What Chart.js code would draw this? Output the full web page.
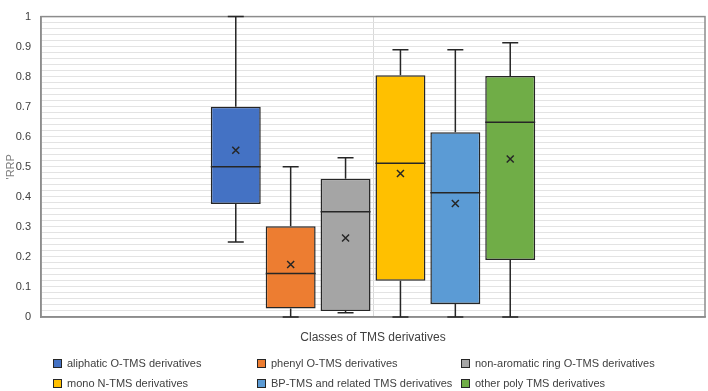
<!DOCTYPE html>
<html>
<head>
<meta charset="utf-8">
<script src="https://cdn.jsdelivr.net/npm/chart.js@4.4.1/dist/chart.umd.min.js"></script>
<style>
  body { margin: 0; background: #fff; }
  #wrap { position: relative; width: 708px; height: 391px; font-family: "Liberation Sans", Arial, sans-serif; }
  #legend .item { position: absolute; font-size: 11px; color: #404040; white-space: nowrap; line-height: 13px; }
  #legend .box { display: inline-block; width: 7px; height: 7px; border: 1px solid #262626; margin-right: 5px; vertical-align: -1px; }
</style>
</head>
<body>
<div id="wrap">
  <canvas id="boxChart" width="708" height="391"></canvas>
  <div id="legend"></div>
</div>
<script>
// Classes and box plot values
const categories = [
  "aliphatic O-TMS derivatives",
  "phenyl O-TMS derivatives",
  "non-aromatic ring O-TMS derivatives",
  "mono N-TMS derivatives",
  "BP-TMS and related TMS derivatives",
  "other poly TMS derivatives",
];
const colors = ["#4472C4", "#ED7D31", "#A5A5A5", "#FFC000", "#5B9BD5", "#70AD47"];

const mins    = [0.25, 0.0, 0.014, 0.0, 0.0, 0.0];
const q1s     = [0.376, 0.028, 0.02, 0.121, 0.043, 0.19];
const medians = [0.5, 0.145, 0.35, 0.512, 0.414, 0.648];
const q3s     = [0.70, 0.302, 0.46, 0.805, 0.615, 0.802];
const maxs    = [1.0, 0.5, 0.53, 0.89, 0.89, 0.913];
const means   = [0.555, 0.175, 0.263, 0.478, 0.378, 0.526];

const yTickLabels = ["0", "0.1", "0.2", "0.3", "0.4", "0.5", "0.6", "0.7", "0.8", "0.9", "1"];

const FONT = "'Liberation Sans', Arial, sans-serif";

// whiskers, medians and means drawn on top of the floating bars
const boxExtras = {
  id: "boxExtras",
  afterDatasetsDraw(chart) {
    const ctx = chart.ctx;
    const y = chart.scales.y;
    ctx.save();
    chart.data.datasets.forEach((ds, i) => {
      const bar = chart.getDatasetMeta(i).data[0];
      const x = bar.x;
      const half = bar.width / 2;
      ctx.strokeStyle = "#262626";
      ctx.lineWidth = 1.5;
      ctx.beginPath();
      // upper whisker
      ctx.moveTo(x, y.getPixelForValue(q3s[i]));
      ctx.lineTo(x, y.getPixelForValue(maxs[i]));
      ctx.moveTo(x - 8, y.getPixelForValue(maxs[i]));
      ctx.lineTo(x + 8, y.getPixelForValue(maxs[i]));
      // lower whisker
      ctx.moveTo(x, y.getPixelForValue(q1s[i]));
      ctx.lineTo(x, y.getPixelForValue(mins[i]));
      ctx.moveTo(x - 8, y.getPixelForValue(mins[i]));
      ctx.lineTo(x + 8, y.getPixelForValue(mins[i]));
      // median
      ctx.moveTo(x - half, y.getPixelForValue(medians[i]));
      ctx.lineTo(x + half, y.getPixelForValue(medians[i]));
      ctx.stroke();
      // mean marker
      const my = y.getPixelForValue(means[i]);
      ctx.beginPath();
      ctx.moveTo(x - 3.5, my - 3.5);
      ctx.lineTo(x + 3.5, my + 3.5);
      ctx.moveTo(x - 3.5, my + 3.5);
      ctx.lineTo(x + 3.5, my - 3.5);
      ctx.stroke();
    });
    ctx.restore();
  },
  beforeDatasetsDraw(chart) {
    const a = chart.chartArea;
    const ctx = chart.ctx;
    ctx.save();
    ctx.strokeStyle = "#8c8c8c";
    ctx.lineWidth = 1.5;
    ctx.strokeRect(a.left, a.top, a.right - a.left, a.bottom - a.top);
    ctx.restore();
  },
};

new Chart(document.getElementById("boxChart"), {
  type: "bar",
  data: {
    labels: [""],
    datasets: categories.map((name, i) => ({
      label: name,
      data: [[q1s[i], q3s[i]]],
      backgroundColor: colors[i],
      borderColor: "#262626",
      borderWidth: 1.5,
      borderSkipped: false,
      categoryPercentage: 0.496,
      barPercentage: 0.91,
    })),
  },
  options: {
    responsive: false,
    devicePixelRatio: 1,
    animation: false,
    layout: { padding: { top: 5, right: 3, left: 0, bottom: 0 } },
    plugins: {
      legend: { display: false },
      tooltip: { enabled: false },
    },
    scales: {
      x: {
        grid: { offset: false, color: "#d9d9d9", drawTicks: false },
        border: { display: true, color: "#8c8c8c", width: 1.5 },
        ticks: { display: false },
        title: {
          display: true,
          text: "Classes of TMS derivatives",
          color: "#404040",
          font: { family: FONT, size: 12 },
          padding: { top: 0, bottom: 46 },
        },
        afterFit(scale) { scale.height = 74; },
      },
      y: {
        min: 0,
        max: 1,
        grid: { color: "#e3e3e3", drawTicks: false },
        border: { display: true, color: "#8c8c8c", width: 1.5 },
        ticks: {
          stepSize: 0.02,
          maxTicksLimit: 100,
          autoSkip: false,
          padding: 10,
          color: "#404040",
          font: { family: FONT, size: 11 },
          callback: (v, idx) => (idx % 5 === 0 ? yTickLabels[idx / 5] : ""),
        },
        title: {
          display: true,
          text: "'RRP",
          color: "#7f7f7f",
          font: { family: FONT, size: 11 },
          padding: { top: 4, bottom: 0 },
        },
        afterFit(scale) { scale.width = 41; },
      },
    },
  },
  plugins: [boxExtras],
});

// legend laid out in three columns like the original
const legendEl = document.getElementById("legend");
const colX = [53, 257, 461];
const rowY = [357, 377];
categories.forEach((name, i) => {
  const item = document.createElement("div");
  item.className = "item";
  item.style.left = colX[i % 3] + "px";
  item.style.top = rowY[Math.floor(i / 3)] + "px";
  item.innerHTML = '<span class="box" style="background:' + colors[i] + '"></span>' + name;
  legendEl.appendChild(item);
});
</script>
</body>
</html>
